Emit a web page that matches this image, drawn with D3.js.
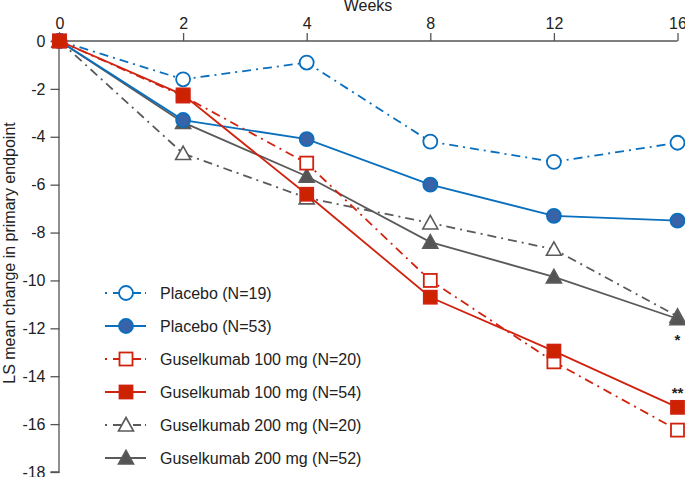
<!DOCTYPE html>
<html><head><meta charset="utf-8">
<script src="https://cdn.jsdelivr.net/npm/d3@7"></script>
<style>body{margin:0;background:#fff}svg{display:block;font-family:"Liberation Sans",Arial,sans-serif}</style>
</head><body><svg id="c" width="685" height="477"></svg>
<script>
const weeks = ["0","2","4","8","12","16"];
const placebo19 = [0,-1.6,-0.9,-4.2,-5.05,-4.25];
const placebo53 = [0,-3.3,-4.1,-6.0,-7.3,-7.5];
const gus100n20 = [0,-2.3,-5.1,-10.0,-13.4,-16.25];
const gus100n54 = [0,-2.25,-6.4,-10.7,-12.95,-15.3];
const gus200n20 = [0,-4.7,-6.55,-7.6,-8.7,-11.5];
const gus200n52 = [0,-3.4,-5.65,-8.4,-9.85,-11.6];
const yTicks = [0,-2,-4,-6,-8,-10,-12,-14,-16,-18];
const seriesNames = ["Placebo (N=19)","Placebo (N=53)","Guselkumab 100 mg (N=20)","Guselkumab 100 mg (N=54)","Guselkumab 200 mg (N=20)","Guselkumab 200 mg (N=52)"];
const annotations = [{week:"16", value:-11.6, text:"*"},{week:"16", value:-15.3, text:"**"}];

const series = [
  {name:seriesNames[0], values:placebo19, color:"#0a6fbd", fill:"#fff", shape:"circle", dash:"9,5,2,5"},
  {name:seriesNames[1], values:placebo53, color:"#0a6fbd", fill:"#3863a8", shape:"circle", dash:null},
  {name:seriesNames[2], values:gus100n20, color:"#d0230f", fill:"#fff", shape:"square", dash:"9,5,2,5"},
  {name:seriesNames[3], values:gus100n54, color:"#d0230f", fill:"#cc2200", shape:"square", dash:null},
  {name:seriesNames[4], values:gus200n20, color:"#5a5a5a", fill:"#fff", shape:"triangle", dash:"9,5,2,5"},
  {name:seriesNames[5], values:gus200n52, color:"#5a5a5a", fill:"#545454", shape:"triangle", dash:null}
];

const svg = d3.select("#c");
const FS = "16px";
const x = d3.scalePoint().domain(weeks).range([59.5, 677.5]);
const y = d3.scaleLinear().domain([0,-18]).range([41, 472]);

// axes
const xa = svg.append("g").attr("transform","translate(0,41)")
  .call(d3.axisTop(x).tickSize(8).tickPadding(4));
const ya = svg.append("g").attr("transform","translate(59.5,0)")
  .call(d3.axisLeft(y).tickValues(yTicks).tickSize(9).tickPadding(5).tickFormat(d=>String(d)));
[xa,ya].forEach(a=>{
  a.selectAll("path,line").attr("stroke","#555").attr("stroke-width",1.3);
  a.selectAll("text").attr("fill","#222").style("font-size",FS).style("font-family","'Liberation Sans',Arial,sans-serif");
});
ya.select(".domain").attr("d","M-0.5,41V472H-9");
xa.select(".domain").attr("d","M59.5,0H677.5");

svg.append("text").attr("x",368).attr("y",11).attr("text-anchor","middle")
  .style("font-size",FS).attr("fill","#222").text("Weeks");
svg.append("text").attr("transform","translate(15,253) rotate(-90)").attr("text-anchor","middle")
  .style("font-size",FS).attr("fill","#222").text("LS mean change in primary endpoint");

function drawMarker(g, s, cx, cy){
  if(s.shape==="circle"){
    g.append("circle").attr("cx",cx).attr("cy",cy).attr("r",7).attr("fill",s.fill).attr("stroke",s.color).attr("stroke-width",1.8);
  } else if(s.shape==="square"){
    g.append("rect").attr("x",cx-6.5).attr("y",cy-6.5).attr("width",13).attr("height",13).attr("fill",s.fill).attr("stroke",s.color).attr("stroke-width",1.8);
  } else {
    g.append("path").attr("d",`M${cx},${cy-7.5}L${cx+7.5},${cy+6}L${cx-7.5},${cy+6}Z`).attr("fill",s.fill).attr("stroke",s.color).attr("stroke-width",1.6);
  }
}

const line = d3.line().x((d,i)=>x(weeks[i])).y(d=>y(d));
const drawOrder = [4,5,1,0,2,3];
drawOrder.forEach(k=>{
  const s = series[k];
  const g = svg.append("g");
  g.append("path").attr("d",line(s.values)).attr("fill","none").attr("stroke",s.color).attr("stroke-width",1.8)
    .attr("stroke-dasharray",s.dash);
  s.values.forEach((v,i)=>drawMarker(g,s,x(weeks[i]),y(v)));
});

annotations.forEach(a=>{
  svg.append("text").attr("x",x(a.week)).attr("y",y(a.value)+ (a.text==="*"?26:-9)).attr("text-anchor","middle")
    .style("font-size","15px").style("font-weight","bold").attr("fill","#222").text(a.text);
});

// legend
const leg = svg.append("g");
const ly0 = 293, ldy = 33;
series.forEach((s,i)=>{
  const cy = ly0 + i*ldy;
  const g = leg.append("g");
  g.append("line").attr("x1",105).attr("x2",146).attr("y1",cy).attr("y2",cy).attr("stroke",s.color).attr("stroke-width",1.8)
    .attr("stroke-dasharray",s.dash? "2,6,8,4":null);
  drawMarker(g,s,126,cy);
  g.append("text").attr("x",160).attr("y",cy+6).style("font-size",FS).attr("fill","#222").text(s.name);
});
</script></body></html>
